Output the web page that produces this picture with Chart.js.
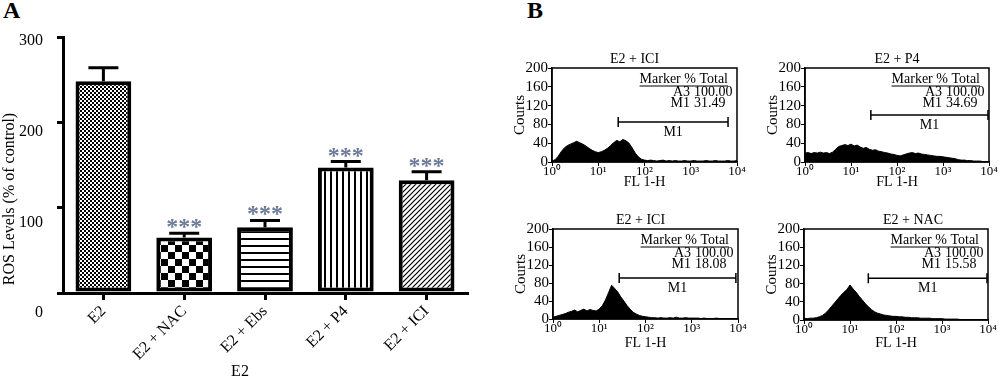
<!DOCTYPE html>
<html>
<head>
<meta charset="utf-8">
<script src="https://cdn.jsdelivr.net/npm/chart.js"></script>
<style>
  body { margin: 0; background: #fff; width: 1000px; height: 389px; position: relative; overflow: hidden; }
  canvas { position: absolute; }
  .tag { position: absolute; font: bold 24px 'Liberation Serif', serif; color: #000; }
</style>
</head>
<body>
<div class="tag" style="left:3px;top:-3px">A</div>
<div class="tag" style="left:527px;top:-3px">B</div>
<canvas id="ros" width="480" height="389" style="left:0;top:0"></canvas>
<canvas id="h1" width="250" height="160" style="left:500px;top:40px"></canvas>
<canvas id="h2" width="250" height="160" style="left:753px;top:40px"></canvas>
<canvas id="h3" width="250" height="160" style="left:501px;top:201px"></canvas>
<canvas id="h4" width="250" height="160" style="left:752px;top:201px"></canvas>
<script>
// ---- panel A data
const groups = ["E2", "E2 + NAC", "E2 + Ebs", "E2 + P4", "E2 + ICI"];
const rosMean = [248, 65, 77, 147, 132];
const rosSem = [16, 5, 8, 7, 10];
const rosSig = ["", "***", "***", "***", "***"];
const rosTicks = [0, 100, 200, 300];

// ---- panel B data (FL1-H channel, log spaced)
const channels = [1, 1.17, 1.36, 1.58, 1.85, 2.15, 2.51, 2.93, 3.41, 3.98, 4.64, 5.41, 6.31, 7.36, 8.58,
  10, 11.7, 13.6, 15.8, 18.5, 21.5, 25.1, 29.3, 34.1, 39.8, 46.4, 54.1, 63.1, 73.6, 85.8,
  100, 117, 136, 158, 185, 215, 251, 293, 341, 398, 464, 541, 631, 736, 858,
  1000, 1170, 1360, 1580, 1850, 2150, 2510, 2930, 3410, 3980, 4640, 5410, 6310, 7360, 8580, 10000];
const countsIciTop = [2, 5, 12, 22, 30, 35, 38, 41, 44, 41, 38, 34, 29, 25, 22,
  20, 22, 25, 29, 35, 41, 46, 43, 48, 45, 40, 30, 19, 11, 6,
  4, 3, 4, 3, 2, 3, 4, 2, 3, 2, 3, 2, 2, 3, 2,
  2, 3, 2, 2, 2, 3, 2, 2, 3, 2, 2, 2, 3, 2, 2, 3];
const countsP4 = [19, 20, 18, 20, 19, 21, 19, 20, 18, 21, 27, 33, 35, 37, 35,
  38, 34, 36, 32, 29, 31, 27, 25, 26, 23, 22, 20, 19, 17, 16,
  14, 13, 15, 17, 19, 20, 18, 19, 17, 16, 15, 14, 13, 12, 12,
  11, 10, 9, 8, 7, 5, 4, 4, 3, 3, 2, 2, 2, 1, 1, 1];
const countsIciBottom = [4, 6, 8, 10, 12, 15, 17, 20, 16, 19, 22, 18, 21, 19, 18,
  22, 30, 42, 58, 75, 68, 60, 49, 40, 30, 22, 15, 11, 8, 6,
  5, 4, 3, 3, 2, 3, 2, 2, 3, 2, 4, 2, 2, 3, 2,
  2, 2, 2, 1, 2, 1, 1, 1, 2, 1, 1, 1, 1, 1, 1, 1];
const countsNac = [4, 3, 4, 4, 5, 7, 10, 15, 22, 30, 38, 46, 54, 61, 67,
  77, 68, 61, 52, 44, 36, 29, 23, 18, 15, 13, 11, 10, 9, 8,
  8, 7, 7, 6, 6, 5, 5, 5, 4, 4, 4, 4, 3, 3, 3,
  3, 2, 2, 2, 2, 2, 1, 1, 1, 1, 1, 0, 0, 0, 0, 0];
const histTitles = ["E2 + ICI", "E2 + P4", "E2 + ICI", "E2 + NAC"];
const m1Percent = ["31.49", "34.69", "18.08", "15.58"];
const a3Percent = ["100.00", "100.00", "100.00", "100.00"];
const m1Gate = [[27, 6400], [27, 10000], [27, 9000], [25, 10000]];
const decades = [1, 10, 100, 1000, 10000];
const decadeLabels = ["10\u2070", "10\u00b9", "10\u00b2", "10\u00b3", "10\u2074"];
const countTicks = [0, 40, 80, 120, 160, 200];

const FONT = "'Liberation Serif', 'Times New Roman', serif";
Chart.defaults.color = '#000';
Chart.defaults.font.family = FONT;

function makePattern(kind) {
  const c = document.createElement('canvas');
  let g;
  if (kind === 'fine') {
    c.width = 4; c.height = 4; g = c.getContext('2d');
    g.fillStyle = '#000'; g.fillRect(0, 0, 4, 4);
    g.fillStyle = '#fff'; g.fillRect(0, 0, 2, 2); g.fillRect(2, 2, 2, 2);
  } else if (kind === 'check') {
    c.width = 14; c.height = 14; g = c.getContext('2d');
    g.fillStyle = '#fff'; g.fillRect(0, 0, 14, 14);
    g.fillStyle = '#000'; g.fillRect(0, 0, 7, 7); g.fillRect(7, 7, 7, 7);
  } else if (kind === 'hline') {
    c.width = 8; c.height = 7; g = c.getContext('2d');
    g.fillStyle = '#fff'; g.fillRect(0, 0, 8, 7);
    g.fillStyle = '#000'; g.fillRect(0, 0, 8, 2);
  } else if (kind === 'vline') {
    c.width = 6; c.height = 8; g = c.getContext('2d');
    g.fillStyle = '#fff'; g.fillRect(0, 0, 6, 8);
    g.fillStyle = '#000'; g.fillRect(0, 0, 2, 8);
  } else {
    c.width = 5; c.height = 5; g = c.getContext('2d');
    g.fillStyle = '#fff'; g.fillRect(0, 0, 5, 5);
    g.strokeStyle = '#000'; g.lineWidth = 1.2;
    g.beginPath();
    g.moveTo(0, 5); g.lineTo(5, 0);
    g.moveTo(-1, 1); g.lineTo(1, -1);
    g.moveTo(4, 6); g.lineTo(6, 4);
    g.stroke();
  }
  return g.createPattern(c, 'repeat');
}
const fills = ['fine', 'check', 'hline', 'vline', 'diag'].map(makePattern);

// error bars, stars, y labels and axis titles of panel A
const rosMarks = {
  id: 'rosMarks',
  afterDatasetsDraw(chart) {
    const { ctx, chartArea: a, scales: { y } } = chart;
    const bars = chart.getDatasetMeta(0).data;
    ctx.save();
    ctx.strokeStyle = '#000';
    ctx.lineWidth = 3;
    bars.forEach((b, i) => {
      const yb = y.getPixelForValue(rosMean[i]);
      const yt = y.getPixelForValue(rosMean[i] + rosSem[i]);
      ctx.beginPath();
      ctx.moveTo(b.x, yb); ctx.lineTo(b.x, yt);
      ctx.moveTo(b.x - 15, yt); ctx.lineTo(b.x + 15, yt);
      ctx.stroke();
      if (rosSig[i]) {
        ctx.fillStyle = '#6d7b9a';
        ctx.font = `bold 24px ${FONT}`;
        ctx.textAlign = 'center';
        ctx.textBaseline = 'alphabetic';
        ctx.fillText(rosSig[i], b.x, yt + 1);
      }
    });
    ctx.fillStyle = '#000';
    ctx.font = `16px ${FONT}`;
    ctx.textAlign = 'right';
    ctx.textBaseline = 'middle';
    rosTicks.forEach(v => {
      const p = y.getPixelForValue(v);
      ctx.fillText(String(v), 43, 41 + (p - a.top) * 1.0625);
    });
    ctx.textAlign = 'center';
    ctx.fillText('E2', 240, 372);
    ctx.translate(10, 199);
    ctx.rotate(-Math.PI / 2);
    ctx.fillText('ROS Levels (% of control)', 0, 0);
    ctx.restore();
  }
};

new Chart('ros', {
  type: 'bar',
  data: {
    labels: groups,
    datasets: [{
      data: rosMean,
      backgroundColor: fills,
      borderColor: '#000',
      borderWidth: 4,
      borderSkipped: false,
      barPercentage: 0.69,
      categoryPercentage: 1
    }]
  },
  options: {
    responsive: false,
    animation: false,
    layout: { padding: { top: 37, right: 13, left: 0, bottom: 0 } },
    plugins: { legend: { display: false }, tooltip: { enabled: false } },
    scales: {
      x: {
        grid: { drawOnChartArea: false, offset: false, tickLength: 7, lineWidth: 3, color: '#000' },
        border: { color: '#000', width: 3 },
        ticks: { font: { size: 16 }, minRotation: 45, maxRotation: 45, padding: 2 },
        afterFit: s => { s.height = 96; }
      },
      y: {
        min: 0, max: 300,
        ticks: { stepSize: 100, display: false },
        grid: { drawOnChartArea: false, tickLength: 6, lineWidth: 3, color: '#000' },
        border: { color: '#000', width: 3 },
        afterFit: s => { s.width = 63; }
      }
    }
  },
  plugins: [rosMarks]
});

// frame, gate marker, title and stats table of each histogram
const histMarks = {
  id: 'histMarks',
  afterDatasetsDraw(chart, args, o) {
    const { ctx, chartArea: a, scales: { x, y } } = chart;
    ctx.save();
    ctx.strokeStyle = '#000';
    ctx.fillStyle = '#000';
    ctx.lineWidth = 1.5;
    ctx.strokeRect(a.left, a.top, a.right - a.left, a.bottom - a.top);
    const g0 = x.getPixelForValue(o.gate[0]);
    const g1 = Math.min(x.getPixelForValue(o.gate[1]), a.right - 1);
    const gy = y.getPixelForValue(o.level);
    ctx.beginPath();
    ctx.moveTo(g0, gy); ctx.lineTo(g1, gy);
    ctx.moveTo(g0, gy - 5); ctx.lineTo(g0, gy + 5);
    ctx.moveTo(g1, gy - 5); ctx.lineTo(g1, gy + 5);
    ctx.stroke();
    ctx.textBaseline = 'middle';
    ctx.textAlign = 'center';
    ctx.font = `14px ${FONT}`;
    ctx.fillText('M1', (g0 + g1) / 2, gy + 10);
    ctx.fillText(o.title, (a.left + a.right) / 2 + o.titleDx, a.top - 9);
    ctx.textAlign = 'right';
    const head = 'Marker % Total';
    const hw = ctx.measureText(head).width;
    ctx.fillText(head, a.right - 9, a.top + 11);
    ctx.lineWidth = 1;
    ctx.beginPath();
    ctx.moveTo(a.right - 9 - hw, a.top + 18); ctx.lineTo(a.right - 9, a.top + 18);
    ctx.stroke();
    ctx.fillText('A3', a.right - 47, a.top + 24);
    ctx.fillText('M1', a.right - 47, a.top + 35);
    ctx.textAlign = 'left';
    ctx.fillText(o.a3, a.right - 43, a.top + 24);
    ctx.fillText(o.m1, a.right - 43, a.top + 35);
    ctx.restore();
  }
};

const frames = [
  { id: 'h1', right: 13, axisH: 38, titleDx: -10, level: 85 },
  { id: 'h2', right: 14, axisH: 38, titleDx: 0, level: 100 },
  { id: 'h3', right: 13, axisH: 42, titleDx: -5, level: 91 },
  { id: 'h4', right: 14, axisH: 41, titleDx: 17, level: 92 }
];
const histCounts = [countsIciTop, countsP4, countsIciBottom, countsNac];

frames.forEach((f, k) => {
  new Chart(f.id, {
    type: 'line',
    data: {
      datasets: [{
        data: channels.map((c, i) => ({ x: c, y: histCounts[k][i] })),
        borderColor: '#000',
        backgroundColor: '#000',
        borderWidth: 1,
        pointRadius: 0,
        fill: 'origin',
        tension: 0
      }]
    },
    options: {
      responsive: false,
      animation: false,
      layout: { padding: { top: 28, right: f.right, left: 0, bottom: 0 } },
      plugins: {
        legend: { display: false },
        tooltip: { enabled: false },
        histMarks: {
          title: histTitles[k], m1: m1Percent[k], a3: a3Percent[k],
          gate: m1Gate[k], level: f.level, titleDx: f.titleDx
        }
      },
      scales: {
        x: {
          type: 'logarithmic', min: 1, max: 10000,
          afterBuildTicks: s => { s.ticks = decades.map(v => ({ value: v })); },
          ticks: { callback: (v, i) => decadeLabels[i], autoSkip: false, maxRotation: 0, font: { size: 13 }, padding: -2 },
          grid: { drawOnChartArea: false, tickLength: 4, color: '#000' },
          border: { color: '#000', width: 1.5 },
          title: { display: true, text: 'FL 1-H', font: { size: 14 }, padding: { top: 0, bottom: 9 } },
          afterFit: s => { s.height = f.axisH; }
        },
        y: {
          min: 0, max: 200,
          afterBuildTicks: s => { s.ticks = countTicks.map(v => ({ value: v })); },
          ticks: { font: { size: 15 }, padding: 0, autoSkip: false },
          grid: { drawOnChartArea: false, tickLength: 4, color: '#000' },
          border: { color: '#000', width: 1.5 },
          title: { display: true, text: 'Courts', font: { size: 15 }, padding: { top: 11, bottom: 0 } },
          afterFit: s => { s.width = 52; }
        }
      }
    },
    plugins: [histMarks]
  });
});
</script>
</body>
</html>
